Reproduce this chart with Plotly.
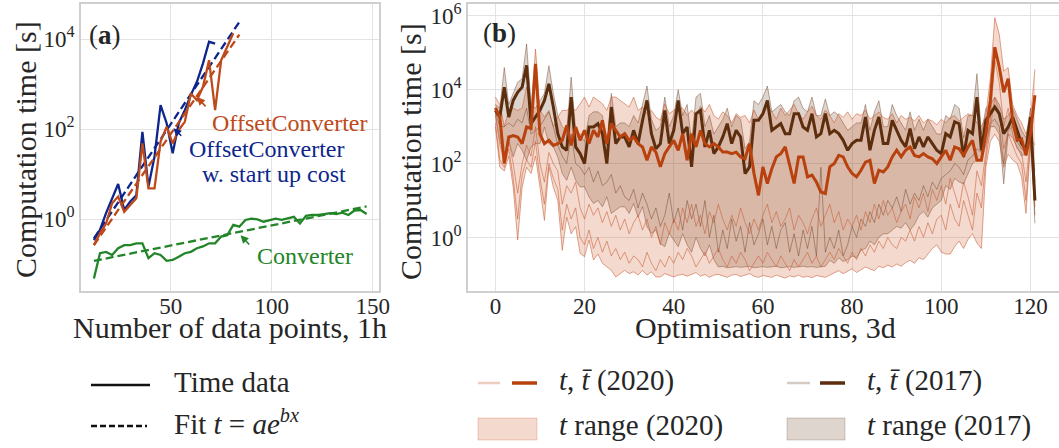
import plotly.graph_objects as go

W, H = 1059, 448

# ---------------- panel (a) data (values are log10 of seconds) ----------------
x_conv = list(range(12, 148, 3))
conv_log = [-1.32, -0.76, -0.73, -0.80, -0.65, -0.58, -0.58, -0.54, -0.54, -0.87,
            -0.76, -0.80, -0.93, -0.91, -0.84, -0.76, -0.73, -0.65, -0.61, -0.54,
            -0.54, -0.39, -0.36, -0.13, -0.17, -0.02, 0.01, -0.01, -0.06, -0.02,
            0.01, -0.02, 0.01, 0.05, -0.10, 0.07, 0.09, 0.09, 0.11, 0.13,
            0.11, 0.14, 0.09, 0.19, 0.20, 0.11]

x_oc = list(range(12, 82, 3))
oc_log = [-0.58, -0.32, -0.10, 0.35, 0.50, 0.16, 0.31, 0.46, 1.68, 0.68,
          0.68, 1.72, 2.05, 1.68, 1.98, 2.16, 2.79, 2.64, 2.94, 3.53,
          2.42, 3.53, 3.83, 4.13]

x_ocsu = list(range(12, 73, 3))
ocsu_log = [-0.47, -0.24, 0.13, 0.46, 0.78, 0.20, 0.39, 0.53, 1.94, 0.72,
            1.39, 2.53, 2.13, 1.46, 2.13, 2.42, 2.76, 3.05, 3.46, 3.94,
            3.90]

fit_x = [12, 84]
fit_ocsu_log = [-0.43, 4.38]
fit_oc_log = [-0.58, 4.10]
fit_conv_x = [12, 147]
fit_conv_log = [-0.93, 0.28]

# ---------------- panel (b) data (log10 of seconds) ----------------
runs = list(range(122))
mean2020_log = [3.51, 3.26, 2.00, 2.72, 2.76, 2.72, 2.54, 2.99, 2.95, 4.70,
                2.80, 2.54, 2.63, 2.49, 2.54, 2.63, 3.03, 2.49, 2.99, 2.63,
                2.90, 2.54, 2.90, 2.72, 3.17, 2.54, 3.08, 2.90, 2.72, 2.81,
                2.63, 2.72, 2.54, 2.45, 2.09, 2.45, 2.31, 1.91, 2.27, 2.45,
                2.63, 2.36, 2.81, 2.09, 2.81, 2.45, 2.90, 2.54, 2.45, 2.54,
                2.45, 2.31, 2.31, 2.27, 2.31, 2.18, 2.13, 2.54, 1.73, 1.14,
                1.91, 1.46, 1.86, 2.18, 2.27, 2.45, 1.91, 1.46, 2.18, 2.18,
                1.64, 1.69, 1.50, 1.23, 1.19, 1.91, 2.00, 2.22, 2.18, 1.91,
                1.73, 1.64, 1.82, 2.04, 2.09, 1.46, 1.82, 1.77, 1.91, 2.18,
                2.36, 2.18, 2.36, 2.45, 2.22, 2.18, 2.27, 2.18, 2.13, 2.00,
                2.18, 2.36, 2.09, 2.45, 2.40, 2.22, 2.45, 2.63, 2.09, 2.09,
                2.81, 3.71, 5.15, 4.61, 3.93, 4.30, 3.17, 2.63, 2.67, 2.22,
                2.81, 3.85]
mean2017_log = [3.44, 3.26, 4.07, 3.26, 3.71, 3.93, 4.07, 4.66, 3.08, 3.26,
                3.44, 3.71, 4.16, 3.53, 2.81, 2.45, 2.36, 3.80, 2.45, 2.27,
                2.00, 2.99, 2.99, 3.08, 2.81, 2.00, 3.53, 2.54, 2.72, 2.72,
                2.45, 2.90, 2.54, 3.17, 3.71, 2.81, 2.40, 2.54, 3.44, 2.54,
                2.90, 3.71, 2.81, 2.99, 1.91, 3.35, 3.44, 2.45, 2.90, 2.27,
                2.45, 2.72, 3.08, 2.54, 2.90, 2.72, 1.73, 1.91, 3.17, 3.17,
                3.35, 3.71, 2.90, 2.99, 3.08, 2.81, 2.81, 3.35, 3.35, 2.99,
                2.90, 3.35, 2.72, 2.81, 3.35, 2.81, 2.90, 2.81, 2.63, 2.36,
                2.54, 2.63, 2.63, 3.26, 2.36, 2.90, 3.26, 2.54, 2.54, 3.17,
                2.90, 2.63, 2.45, 2.95, 2.40, 2.72, 2.45, 2.72, 2.54, 2.36,
                2.27, 2.81, 2.72, 3.13, 3.08, 2.18, 2.90, 2.81, 3.80, 2.36,
                3.17, 3.35, 3.53, 3.35, 2.81, 2.99, 3.26, 2.90, 2.54, 2.36,
                3.26, 1.00]
max2020_log = [3.80, 3.60, 3.00, 3.44, 3.50, 3.44, 3.50, 4.07, 3.44, 5.10,
               3.44, 3.26, 3.44, 3.00, 3.26, 3.44, 3.44, 3.53, 3.44, 3.62,
               3.80, 3.53, 3.80, 3.71, 3.62, 3.44, 3.80, 3.80, 3.71, 3.62,
               3.53, 3.80, 3.44, 3.53, 3.35, 3.44, 3.26, 3.17, 3.62, 3.35,
               3.44, 3.53, 3.50, 3.30, 3.45, 3.30, 3.55, 3.40, 3.60, 3.30,
               3.20, 3.40, 3.30, 3.10, 3.35, 3.25, 3.30, 3.10, 3.45, 3.20,
               3.30, 3.55, 3.40, 3.20, 3.50, 3.30, 3.45, 3.60, 3.35, 3.20,
               3.40, 3.55, 3.30, 3.20, 3.45, 3.30, 3.10, 3.35, 3.25, 3.40,
               3.20, 3.35, 3.30, 3.45, 3.20, 3.30, 3.40, 3.25, 3.20, 3.35,
               3.10, 3.30, 3.20, 3.25, 3.15, 3.30, 3.10, 3.20, 3.15, 3.05,
               3.20, 3.10, 3.25, 3.30, 3.15, 3.25, 3.35, 3.30, 3.10, 3.00,
               3.30, 4.30, 5.95, 5.50, 4.50, 4.60, 3.60, 3.30, 3.10, 2.80,
               3.20, 4.55]
min2020_log = [3.00, 1.90, 1.80, 2.20, 1.36, -0.07, 1.36, 1.90, 1.73, 2.20,
               1.36, 0.46, 1.90, 1.36, 1.00, -0.35, 0.55, 0.10, 0.29, -0.43,
               -0.52, -0.07, -0.61, -0.45, -0.70, -0.80, -0.89, -1.07, -0.98, -0.89,
               -0.98, -0.93, -1.02, -0.89, -1.02, -0.93, -1.07, -1.07, -0.98, -1.02,
               -1.07, -1.02, -1.00, -1.05, -1.00, -0.95, -1.05, -1.00, -1.08, -1.02,
               -1.00, -1.05, -1.08, -1.02, -1.00, -1.06, -1.03, -0.98, -1.05, -1.08,
               -1.03, -1.06, -1.08, -1.02, -1.07, -1.10, -1.04, -1.07, -1.02, -1.08,
               -1.05, -1.09, -1.03, -1.06, -1.08, -1.02, -0.95, -0.90, -0.98, -0.92,
               -0.85, -0.95, -0.88, -0.80, -0.85, -0.90, -0.78, -0.82, -0.75, -0.80,
               -0.72, -0.78, -0.68, -0.62, -0.70, -0.55, -0.60, -0.45, -0.30, -0.20,
               -0.40, -0.45, -0.45, -0.25, -0.10, -0.30, -0.05, 0.10, -0.15, -0.30,
               1.90, 2.60, 2.80, 2.60, 1.90, 2.25, 2.10, 2.00, 1.64, 0.65,
               2.50, 0.83]
max2017_log = [3.60, 3.50, 4.60, 3.60, 3.90, 4.20, 4.30, 5.24, 3.60, 3.50,
               3.70, 3.90, 4.65, 3.90, 3.30, 3.00, 2.90, 4.34, 2.90, 2.80,
               2.60, 3.30, 3.40, 3.40, 3.30, 2.50, 3.90, 3.00, 3.10, 3.10,
               3.00, 3.30, 3.10, 3.60, 4.10, 3.20, 2.90, 3.00, 3.80, 3.00,
               3.30, 4.00, 3.30, 3.60, 2.60, 3.80, 3.90, 3.00, 3.30, 2.80,
               3.00, 3.20, 3.50, 3.00, 3.30, 3.20, 2.40, 2.60, 3.70, 3.60,
               3.80, 4.10, 3.40, 3.50, 3.60, 3.40, 3.30, 3.70, 3.80, 3.50,
               3.40, 3.80, 3.30, 3.30, 3.75, 3.30, 3.40, 3.30, 3.10, 2.90,
               3.00, 3.10, 3.10, 3.60, 2.90, 3.40, 3.70, 3.00, 3.00, 3.60,
               3.30, 3.10, 2.90, 3.40, 2.90, 3.20, 2.90, 3.20, 3.00, 2.80,
               2.80, 3.30, 3.20, 3.60, 3.50, 2.70, 3.30, 3.30, 4.43, 2.80,
               3.50, 3.60, 3.80, 3.60, 3.20, 3.30, 3.50, 3.20, 2.90, 2.70,
               3.50, 1.50]
min2017_log = [3.35, 2.63, 2.18, 2.63, 2.18, 2.54, 2.36, 2.09, 2.45, 2.54,
               2.54, 2.99, 2.54, 2.45, 2.18, 1.73, 1.55, 1.90, 1.55, 1.37,
               1.37, 1.10, 0.92, 1.00, 0.83, 1.10, 0.65, 0.74, 0.83, 0.83,
               0.65, 0.92, 0.55, 0.83, 0.29, 0.11, 0.20, -0.17, -0.25, 0.11,
               -0.07, -0.25, 0.10, -0.20, -0.40, 0.00, -0.30, -0.50, -0.20, -0.60,
               -0.80, -0.78, -0.82, -0.80, -0.79, -0.81, -0.80, -0.78, -0.82, -0.80,
               -0.79, -0.81, -0.80, -0.78, -0.82, -0.80, -0.79, -0.81, -0.80, -0.78,
               -0.80, -0.79, -0.81, -0.80, -0.78, -0.62, -0.70, -0.55, -0.65, -0.60,
               -0.50, -0.55, -0.35, -0.30, -0.10, -0.20, 0.00, 0.10, 0.10, 0.20,
               0.30, 0.25, 0.40, 0.20, 0.35, 0.60, 0.70, 0.55, 0.80, 0.90,
               1.00, 1.40, 1.30, 1.60, 1.50, 1.45, 1.75, 2.00, 2.10, 2.10,
               2.50, 3.00, 3.00, 2.80, 1.45, 2.80, 2.70, 2.45, 2.20, 2.30,
               3.10, 0.38]
run2020a_log = [3.30, 2.50, 2.10, 2.60, 2.00, 1.20, 2.00, 2.50, 2.20, 3.00,
                2.00, 1.50, 2.30, 2.00, 1.80, 0.90, 1.40, 1.20, 1.50, 0.80,
                0.50, 0.90, 0.60, 0.80, 0.40, 0.70, 0.30, 0.60, 0.20, 0.50,
                0.10, 0.40, 0.60, 0.20, 0.50, 0.00, 0.30, -0.20, 0.40, 0.10,
                0.50, 0.20, 0.80, 0.40, 0.90, 0.30, 0.60, 0.10, 0.70, 0.40,
                0.90, 0.50, 0.20, 0.60, 0.30, 0.80, 0.40, 0.10, 0.50, 0.20,
                0.60, 0.90, 0.40, 0.70, 0.30, 0.50, 0.80, 0.20, 0.60, 0.40,
                0.10, 0.50, 0.80, 0.30, 0.60, 0.90, 0.40, 0.70, 0.20, 0.50,
                0.30, 0.60, 0.20, 0.70, 0.40, 0.90, 0.50, 1.00, 0.60, 0.80,
                0.40, 0.70, 0.90, 0.50, 1.10, 0.80, 1.20, 0.70, 1.30, 1.00,
                1.40, 0.90, 1.60, 1.20, 0.80, 1.50, 1.10, 0.60, 1.80, 1.40,
                2.30, 3.20, 4.80, 4.20, 3.00, 3.50, 2.80, 2.40, 2.30, 1.50,
                2.70, 2.50]
run2020b_log = [3.10, 2.10, 1.90, 2.40, 1.60, 0.50, 1.70, 2.10, 1.90, 2.60,
                1.60, 0.90, 2.00, 1.60, 1.30, 0.20, 0.90, 0.50, 0.80, 0.00,
                -0.20, 0.20, -0.30, 0.00, -0.40, -0.10, -0.50, -0.30, -0.60, -0.40,
                -0.70, -0.50, -0.60, -0.80, -0.40, -0.70, -0.90, -0.60, -0.80, -0.50,
                -0.70, -0.40, -0.60, -0.30, -0.50, -0.80, -0.60, -0.40, -0.70, -0.50,
                -0.30, -0.60, -0.80, -0.50, -0.70, -0.40, -0.60, -0.90, -0.70, -0.50,
                -0.70, -0.40, -0.60, -0.80, -0.50, -0.70, -0.90, -0.60, -0.80, -0.60,
                -0.40, -0.70, -0.50, -0.80, -0.60, -0.40, -0.60, -0.30, -0.50, -0.70,
                -0.40, -0.60, -0.30, -0.50, -0.20, -0.40, -0.10, -0.30, 0.00, -0.20,
                -0.30, 0.00, -0.10, 0.20, -0.10, 0.30, 0.00, 0.40, 0.10, 0.50,
                0.60, 0.20, 0.90, 0.50, 0.30, 1.00, 0.60, 0.20, 1.20, 0.80,
                2.10, 2.90, 3.80, 3.40, 2.40, 2.80, 2.50, 2.20, 2.00, 1.00,
                2.60, 1.80]
run2017a_log = [3.40, 3.00, 3.00, 3.10, 3.00, 3.20, 3.10, 3.50, 2.80, 2.90,
                3.00, 3.20, 3.40, 3.00, 2.50, 2.20, 2.00, 2.80, 2.00, 1.90,
                1.70, 1.90, 1.50, 1.80, 1.40, 1.50, 1.70, 1.20, 1.40, 1.10,
                1.00, 1.30, 0.80, 1.20, 0.90, 0.50, 0.80, 0.30, 0.60, 1.20,
                0.40, 0.80, 0.20, 1.00, 0.50, 0.90, 0.30, 1.00, 0.00, 0.60,
                -0.40, 0.20, -0.30, 0.50, -0.10, 0.30, -0.40, 0.40, -0.20, 0.10,
                0.50, -0.20, 0.30, -0.30, 0.20, 0.40, -0.40, 0.10, -0.50, 0.20,
                -0.30, 0.30, -0.50, 1.90, -0.40, 0.00, -0.30, 0.20, -0.50, -0.20,
                0.30, 0.00, 0.50, 0.30, 0.70, 0.40, 0.90, 0.60, 1.00, 0.80,
                1.10, 0.70, 1.30, 0.90, 1.20, 1.00, 1.40, 1.10, 1.50, 1.30,
                1.60, 1.70, 1.80, 2.00, 1.90, 1.70, 2.10, 2.20, 2.40, 2.30,
                2.70, 3.10, 3.20, 3.00, 2.00, 2.90, 3.00, 2.60, 2.40, 2.33,
                3.20, 0.60]

xticks_a = [50, 100, 150]
yticks_a = [1, 100, 10000]
yticktext_a = ["10<sup>0</sup>", "10<sup>2</sup>", "10<sup>4</sup>"]
xticks_b = [0, 20, 40, 60, 80, 100, 120]
yticks_b = [1, 100, 10000, 1000000]
yticktext_b = ["10<sup>0</sup>", "10<sup>2</sup>", "10<sup>4</sup>", "10<sup>6</sup>"]


def pw(v):
    return [10 ** a for a in v]


FONT = "Liberation Serif"
TXT = "#262626"
C_BLUE = "rgb(14,38,140)"
C_ORANGE = "rgb(190,74,26)"
C_GREEN = "rgb(34,133,40)"
C20 = "rgb(184,65,14)"
C17 = "rgb(92,46,14)"
C20_THIN = "rgba(200,90,50,0.55)"
C17_THIN = "rgba(92,46,14,0.40)"
F20 = "rgba(200,80,30,0.22)"
F17 = "rgba(92,46,14,0.20)"

fig = go.Figure()

# ---- panel (a)
def line_a(x, y, color, dash="solid"):
    fig.add_trace(go.Scatter(x=x, y=pw(y), mode="lines", xaxis="x", yaxis="y",
                             line=dict(color=color, width=2.3,
                                       dash=("8px,4px" if dash == "dash" else "solid")),
                             showlegend=False, hoverinfo="skip"))

line_a(fit_conv_x, fit_conv_log, C_GREEN, "dash")
line_a(x_conv, conv_log, C_GREEN)
line_a(fit_x, fit_ocsu_log, C_BLUE, "dash")
line_a(x_ocsu, ocsu_log, C_BLUE)
line_a(fit_x, fit_oc_log, C_ORANGE, "dash")
line_a(x_oc, oc_log, C_ORANGE)

# ---- panel (b)
def band(lo, hi, fill, thin):
    fig.add_trace(go.Scatter(x=runs, y=pw(lo), mode="lines", xaxis="x2", yaxis="y2",
                             line=dict(color=thin, width=1), showlegend=False, hoverinfo="skip"))
    fig.add_trace(go.Scatter(x=runs, y=pw(hi), mode="lines", xaxis="x2", yaxis="y2",
                             line=dict(color=thin, width=1), fill="tonexty", fillcolor=fill,
                             showlegend=False, hoverinfo="skip"))

def thin_line(v, color):
    fig.add_trace(go.Scatter(x=runs, y=pw(v), mode="lines", xaxis="x2", yaxis="y2",
                             line=dict(color=color, width=1), showlegend=False, hoverinfo="skip"))

band(min2017_log, max2017_log, F17, C17_THIN)
band(min2020_log, max2020_log, F20, C20_THIN)
thin_line(run2017a_log, C17_THIN)
thin_line(run2020a_log, C20_THIN)
thin_line(run2020b_log, C20_THIN)
fig.add_trace(go.Scatter(x=runs, y=pw(mean2017_log), mode="lines", xaxis="x2", yaxis="y2",
                         line=dict(color=C17, width=3), showlegend=False, hoverinfo="skip"))
fig.add_trace(go.Scatter(x=runs, y=pw(mean2020_log), mode="lines", xaxis="x2", yaxis="y2",
                         line=dict(color=C20, width=3), showlegend=False, hoverinfo="skip"))


def px(x):
    return x / W


def py(y):
    return 1 - y / H


ydom = [py(291), py(4)]
grid = dict(showgrid=True, gridcolor="#e3e3e3", gridwidth=1.3, zeroline=False,
            showline=True, linecolor="#cfcfcf", linewidth=1.6, ticks="", automargin=False,
            tickfont=dict(family=FONT, size=23, color=TXT))

fig.update_layout(
    width=W, height=H, margin=dict(l=0, r=0, t=0, b=0, pad=0),
    paper_bgcolor="white", plot_bgcolor="white",
    font=dict(family=FONT, color=TXT),
    xaxis=dict(domain=[px(81), px(379.3)], range=[5.6, 153.3], tickvals=xticks_a,
               mirror=True, anchor="y", ticklabelstandoff=-6, **grid),
    yaxis=dict(domain=ydom, type="log", range=[-1.6, 4.78], tickvals=yticks_a,
               ticktext=yticktext_a, mirror=True, anchor="x", **grid),
    xaxis2=dict(domain=[px(468), 1.0], range=[-6.14, 126.4], tickvals=xticks_b,
                mirror=True, anchor="y2", ticklabelstandoff=-6, **grid),
    yaxis2=dict(domain=ydom, type="log", range=[-1.45, 6.32], tickvals=yticks_b,
                ticktext=yticktext_b, anchor="x2", **grid),
)

ann = []
DY = 3  # annotation box centre sits slightly above the glyph centre
def text(x, y, s, size=30, color=TXT, xanchor="left", angle=0, align="left"):
    ann.append(dict(x=px(x), y=py(y - (DY if angle == 0 else 0)), xref="paper", yref="paper",
                    text=s, showarrow=False,
                    xanchor=xanchor, yanchor="middle", textangle=angle, align=align,
                    font=dict(family=FONT, size=size, color=color)))

text(25, 150, "Computation time [s]", xanchor="center", angle=-90)
text(410, 152, "Computation time [s]", xanchor="center", angle=-90)
text(230, 330, "Number of data points, 1h", xanchor="center")
text(765, 330, "Optimisation runs, 3d", xanchor="center")
text(87, 38, "(<b>a</b>)", size=27)
text(481, 36, "(<b>b</b>)", size=27)
text(210, 126, "OffsetConverter", size=24, color=C_ORANGE)
text(267, 152, "OffsetConverter", size=24, color=C_BLUE, xanchor="center")
text(274, 177, "w. start up cost", size=24, color=C_BLUE, xanchor="center")
text(255, 259, "Converter", size=24, color=C_GREEN)

def arrow(xt, yt, xs, ys, color):
    ann.append(dict(x=xt, y=yt, ax=xs, ay=ys, xref="x", yref="y", axref="x", ayref="y",
                    text="", showarrow=True, arrowhead=2, arrowsize=1, arrowwidth=1.6,
                    arrowcolor=color))

arrow(63, 2.71, 68, 2.47, C_ORANGE)
arrow(51.3, 2.02, 56, 1.82, C_BLUE)
arrow(84.6, -0.36, 89.6, -0.60, C_GREEN)

# ---- legend (drawn)
shapes = []
def seg(x0, x1, y, color, width, dash="solid"):
    shapes.append(dict(type="line", xref="paper", yref="paper", x0=px(x0), x1=px(x1),
                       y0=py(y), y1=py(y), line=dict(color=color, width=width, dash=dash)))

def box(x0, x1, y0, y1, fill, edge):
    shapes.append(dict(type="rect", xref="paper", yref="paper", x0=px(x0), x1=px(x1),
                       y0=py(y1), y1=py(y0), fillcolor=fill, line=dict(color=edge, width=1)))

seg(91, 150, 385, "#111111", 2.5)
seg(91, 147, 426, "#111111", 2.5, "6px,3px")
text(172, 385, "Time data", size=29)
text(172, 425, "Fit <i>t</i> = <i>ae</i><sup><i>bx</i></sup>", size=29)

seg(478, 500, 383, "rgba(200,90,50,0.30)", 2.5)
seg(512, 537, 383, C20, 3.5)
text(557, 383, "<i>t</i>, <i>t̄</i> (2020)", size=29)
box(478, 537, 418, 440, F20, "rgba(200,80,30,0.25)")
text(557, 428, "<i>t</i> range (2020)", size=29)

seg(787, 810, 383, "rgba(92,46,14,0.25)", 2.5)
seg(820, 845, 383, C17, 3.5)
text(865, 383, "<i>t</i>, <i>t̄</i> (2017)", size=29)
box(787, 845, 418, 440, F17, "rgba(92,46,14,0.22)")
text(865, 428, "<i>t</i> range (2017)", size=29)

fig.update_layout(annotations=ann, shapes=shapes)
fig.write_html("out.html", config={"displayModeBar": False},
               post_script="document.body.style.margin='0px';")
